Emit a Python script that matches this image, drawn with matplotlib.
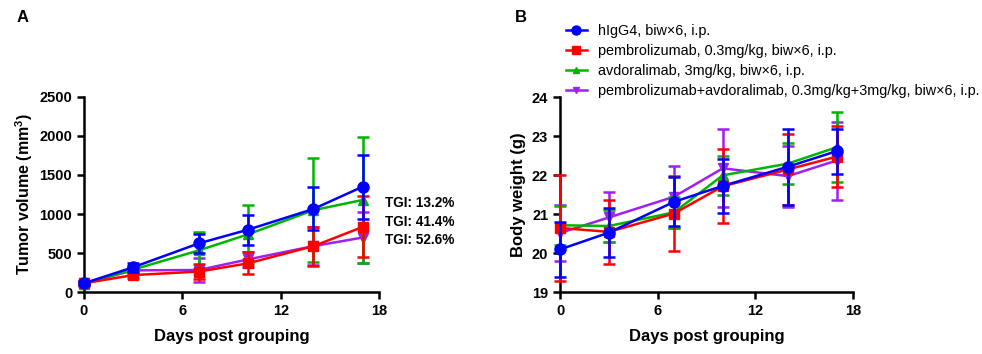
import numpy as np
import matplotlib
matplotlib.use('Agg')
import matplotlib.pyplot as plt
from matplotlib.lines import Line2D

plt.rcParams['font.family'] = ['Liberation Sans', 'DejaVu Sans']
plt.rcParams['mathtext.fontset'] = 'custom'
plt.rcParams['mathtext.bf'] = 'Liberation Sans:bold'
plt.rcParams['mathtext.rm'] = 'Liberation Sans:bold'

days = [0, 3, 7, 10, 14, 17]
groups = ['hIgG4, biw×6, i.p.',
          'pembrolizumab, 0.3mg/kg, biw×6, i.p.',
          'avdoralimab, 3mg/kg, biw×6, i.p.',
          'pembrolizumab+avdoralimab, 0.3mg/kg+3mg/kg, biw×6, i.p.']
colors = ['#0000ff', '#ff0000', '#00b400', '#a020f0']
markers = ['o', 's', '^', 'v']
msizes = [8, 7, 6.5, 6.5]

# tumor volume (mm3), mean and SD
tv_higg4 = [115, 320, 625, 800, 1065, 1350]
tv_higg4_sd = [25, 60, 125, 190, 275, 410]
tv_pembro = [115, 220, 265, 370, 590, 835]
tv_pembro_sd = [25, 35, 100, 140, 250, 390]
tv_avdo = [110, 290, 535, 740, 1050, 1180]
tv_avdo_sd = [25, 50, 240, 375, 665, 800]
tv_combo = [115, 280, 285, 420, 590, 700]
tv_combo_sd = [25, 40, 150, 100, 240, 320]

# body weight (g), mean and SD
bw_higg4 = [20.10, 20.53, 21.32, 21.73, 22.22, 22.62]
bw_higg4_sd = [0.70, 0.62, 0.63, 0.70, 0.97, 0.58]
bw_pembro = [20.65, 20.55, 21.02, 21.72, 22.15, 22.48]
bw_pembro_sd = [1.35, 0.83, 0.97, 0.95, 0.90, 0.78]
bw_avdo = [20.72, 20.70, 21.05, 22.00, 22.30, 22.72]
bw_avdo_sd = [0.50, 0.40, 0.40, 0.50, 0.52, 0.90]
bw_combo = [20.52, 20.92, 21.45, 22.18, 21.98, 22.38]
bw_combo_sd = [0.72, 0.64, 0.80, 1.00, 0.78, 1.00]

tgi_labels = ['TGI: 13.2%', 'TGI: 41.4%', 'TGI: 52.6%']

tv_means = [tv_higg4, tv_pembro, tv_avdo, tv_combo]
tv_sds = [tv_higg4_sd, tv_pembro_sd, tv_avdo_sd, tv_combo_sd]
bw_means = [bw_higg4, bw_pembro, bw_avdo, bw_combo]
bw_sds = [bw_higg4_sd, bw_pembro_sd, bw_avdo_sd, bw_combo_sd]

fig = plt.figure(figsize=(9.82, 3.54), dpi=100)
axA = fig.add_axes([0.0855, 0.1743, 0.3005, 0.5525])
axB = fig.add_axes([0.5703, 0.1743, 0.2983, 0.5507])


def draw(ax, means, sds):
    # draw in reverse so the control group sits on top
    for i in [3, 2, 1, 0]:
        ax.errorbar(days, means[i], yerr=sds[i], color=colors[i], marker=markers[i],
                    markersize=msizes[i], linewidth=1.8, elinewidth=1.8, capsize=4,
                    capthick=1.8, clip_on=False, zorder=3 + (3 - i))


def style(ax):
    for s in ['top', 'right']:
        ax.spines[s].set_visible(False)
    for s in ['left', 'bottom']:
        ax.spines[s].set_linewidth(1.8)
    ax.tick_params(width=1.8, length=5, labelsize=10.5)
    for lab in ax.get_xticklabels() + ax.get_yticklabels():
        lab.set_fontweight('bold')
    ax.set_xlim(0, 18)
    ax.set_xticks([0, 6, 12, 18])
    ax.set_xlabel('Days post grouping', fontsize=12, fontweight='bold', labelpad=8)


draw(axA, tv_means, tv_sds)
axA.set_ylim(0, 2500)
axA.set_yticks([0, 500, 1000, 1500, 2000, 2500])
axA.set_ylabel(r'Tumor volume (mm$^{3}$)', fontsize=11.5, fontweight='bold', labelpad=3)
style(axA)

for k, lab in enumerate(tgi_labels):
    fig.text(385 / 982, 1 - (203 + 18.5 * k) / 354, lab, fontsize=9.8, fontweight='bold', va='center')

draw(axB, bw_means, bw_sds)
axB.set_ylim(19, 24)
axB.set_yticks([19, 20, 21, 22, 23, 24])
axB.set_ylabel('Body weight (g)', fontsize=12, fontweight='bold')
style(axB)

handles = [Line2D([], [], color=colors[i], marker=markers[i], markersize=msizes[i] - 1.5,
                  linewidth=1.8) for i in range(4)]
fig.legend(handles, groups, loc='upper left', bbox_to_anchor=(566 / 982, 1 - 24 / 354),
           frameon=False, fontsize=10.4, handlelength=1.45, handletextpad=0.8,
           labelspacing=0.42, borderaxespad=0, borderpad=0)

fig.text(17 / 982, 1 - 18 / 354, 'A', fontsize=12, fontweight='bold', va='center')
fig.text(515 / 982, 1 - 18 / 354, 'B', fontsize=12, fontweight='bold', va='center')

fig.savefig('out.png', dpi=100)
